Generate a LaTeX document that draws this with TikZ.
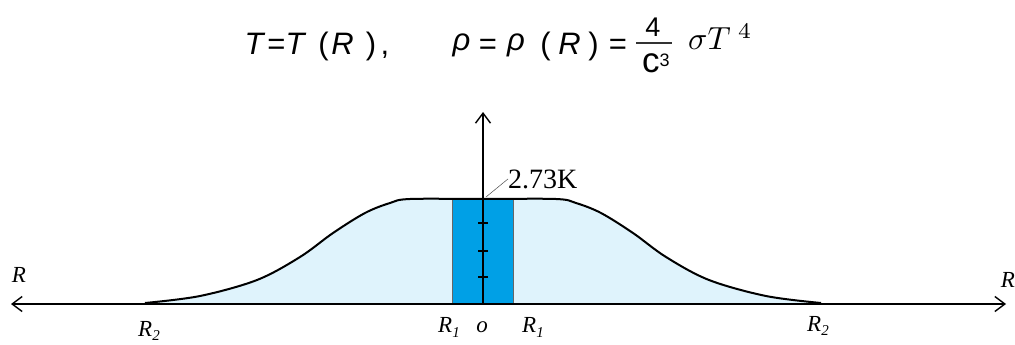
\documentclass[tikz,border=0pt]{standalone}
\usepackage{fontspec}
\setmainfont{Liberation Serif}
\newfontfamily\lsans{Liberation Sans}
\usetikzlibrary{arrows.meta}
\definecolor{lightfill}{HTML}{DFF3FC}
\definecolor{core}{HTML}{00A0E6}
\begin{document}
\begin{tikzpicture}[x=1pt,y=-1pt,
  eq/.style={anchor=base, inner sep=0pt, font=\lsans\fontsize{31}{31}\selectfont},
  lab/.style={anchor=base, inner sep=0pt, font=\fontsize{23}{23}\selectfont\itshape},
  axisline/.style={line width=1.6pt, -{Straight Barb[length=10pt,width=15pt,line width=1.4pt]}},
  tick/.style={line width=2.2pt}]
\useasboundingbox (0,0) rectangle (1015,345);
% formula
\node[eq] (t1) at (254,55) {\itshape T};
\node[eq] (e1) at (276.5,55) {=};
\node[eq] (t2) at (295,55) {\itshape T};
\node[eq] (p1) at (323.5,55) {(};
\node[eq] (r1) at (342.5,55) {\itshape R};
\node[eq] (p2) at (371,55) {)};
\node[eq] (c1) at (385,55) {,};
\node[eq] (rho1) at (461.5,51) {\itshape ρ};
\node[eq] (e2) at (488,55) {=};
\node[eq] (rho2) at (516,51) {\itshape ρ};
\node[eq] (p3) at (545.5,55) {(};
\node[eq] (r2) at (569.5,55) {\itshape R};
\node[eq] (p4) at (593.5,55) {)};
\node[eq] (e3) at (618,55) {=};
\node[anchor=base, inner sep=0pt, font=\lsans\fontsize{27}{27}\selectfont] (four) at (653,37) {4};
\coordinate (barl) at (636,43);
\coordinate (barr) at (672,43);
\draw[line width=1.6pt, black!80] (barl) -- (barr);
\node[anchor=base west, inner sep=0pt, font=\lsans\fontsize{35}{35}\selectfont] (c3) at (642,73) {c{\fontsize{18}{18}\selectfont\raisebox{6pt}{3}}};
\node[anchor=base west, inner sep=0pt] (sig) at (688,50) {\scalebox{3.2}{$\sigma T^{\mkern5mu 4}$}};
% profile
\fill[lightfill] plot[smooth, tension=0.55] coordinates {(145,303) (200,296) (257,280) (300,257) (333,233) (365,213) (390,203) (410,199) (483,199) (556,199) (576,203) (601,213) (633,233) (666,257) (709,280) (766,296) (821,303)} -- cycle;
\fill[core, draw=black!60, line width=0.5pt] (452,199) rectangle (513,304);
\draw[line width=2pt] plot[smooth, tension=0.55] coordinates {(145,303) (200,296) (257,280) (300,257) (333,233) (365,213) (390,203) (410,199) (483,199) (556,199) (576,203) (601,213) (633,233) (666,257) (709,280) (766,296) (821,303)};
% axes
\coordinate (O) at (483,304);
\coordinate (top) at (483,112);
\coordinate (left) at (11,304);
\coordinate (right) at (1006,304);
\draw[axisline] (O) -- (left);
\draw[axisline] (O) -- (right);
\draw[axisline, line width=2pt] (O) -- (top);
\draw[tick] (478,223) -- (488,223);
\draw[tick] (478,251) -- (488,251);
\draw[tick] (478,277) -- (488,277);
% 2.73K
\coordinate (lead) at (486,197);
\node[anchor=base west, inner sep=0pt, font=\fontsize{28}{28}\selectfont] (temp) at (508,188) {2.73K};
\draw[line width=0.5pt, black!70] (lead) -- (temp.west);
% labels
\node[lab] (lR) at (19,282) {R};
\node[lab] (rR) at (1008,287) {R};
\node[lab] (lR2) at (149,336) {R\raisebox{-0.2em}{\fontsize{15}{15}\selectfont 2}};
\node[lab] (rR2) at (818,331) {R\raisebox{-0.2em}{\fontsize{15}{15}\selectfont 2}};
\node[lab] (R1a) at (449,332) {R\raisebox{-0.25em}{\fontsize{15}{15}\selectfont 1}};
\node[lab] (o) at (482,332) {o};
\node[lab] (R1b) at (533,332) {R\raisebox{-0.25em}{\fontsize{15}{15}\selectfont 1}};
\end{tikzpicture}
\end{document}
